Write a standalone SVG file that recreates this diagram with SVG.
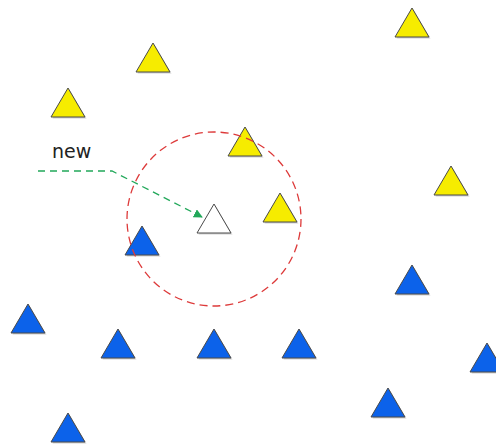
<svg xmlns="http://www.w3.org/2000/svg" width="496" height="445" viewBox="0 0 496 445">
<style>
.tri{stroke:#4a4a4a;stroke-width:1;stroke-linejoin:miter}
.y{fill:#f6ec00}
.b{fill:#0c62ea}
.w{fill:#ffffff}
.sh{fill:#000;opacity:0.18}
.lbl{font-family:"DejaVu Sans",sans-serif;font-size:19px;fill:#222}
</style>
<defs>
<path id="t" d="M0,0 L17,29 L-17,29 Z"/>
<g id="shadow"><use href="#t" class="sh" x="1.5" y="1.5"/></g>
<marker id="ah" viewBox="0 0 10 10" refX="9" refY="5" markerWidth="9" markerHeight="9" markerUnits="userSpaceOnUse" orient="auto">
<path d="M0,0 L10,5 L0,10 Z" fill="#22a85a"/>
</marker>
</defs>
<rect width="496" height="445" fill="#ffffff"/>
<g id="yellow">
<g id="y1"><use href="#shadow" x="153" y="43"/><use href="#t" class="tri y" x="153" y="43"/></g>
<g id="y2"><use href="#shadow" x="412" y="8"/><use href="#t" class="tri y" x="412" y="8"/></g>
<g id="y3"><use href="#shadow" x="68" y="88"/><use href="#t" class="tri y" x="68" y="88"/></g>
<g id="y4"><use href="#shadow" x="245" y="127"/><use href="#t" class="tri y" x="245" y="127"/></g>
<g id="y5"><use href="#shadow" x="451" y="166"/><use href="#t" class="tri y" x="451" y="166"/></g>
<g id="y6"><use href="#shadow" x="280" y="193"/><use href="#t" class="tri y" x="280" y="193"/></g>
</g>
<g id="blue">
<g id="b1"><use href="#shadow" x="142" y="226"/><use href="#t" class="tri b" x="142" y="226"/></g>
<g id="b2"><use href="#shadow" x="412" y="265"/><use href="#t" class="tri b" x="412" y="265"/></g>
<g id="b3"><use href="#shadow" x="28" y="304"/><use href="#t" class="tri b" x="28" y="304"/></g>
<g id="b4"><use href="#shadow" x="118" y="329"/><use href="#t" class="tri b" x="118" y="329"/></g>
<g id="b5"><use href="#shadow" x="214" y="329"/><use href="#t" class="tri b" x="214" y="329"/></g>
<g id="b6"><use href="#shadow" x="299" y="329"/><use href="#t" class="tri b" x="299" y="329"/></g>
<g id="b7"><use href="#shadow" x="487" y="343"/><use href="#t" class="tri b" x="487" y="343"/></g>
<g id="b8"><use href="#shadow" x="388" y="388"/><use href="#t" class="tri b" x="388" y="388"/></g>
<g id="b9"><use href="#shadow" x="68" y="413"/><use href="#t" class="tri b" x="68" y="413"/></g>
</g>
<g id="new-node"><use href="#shadow" x="214" y="204"/><use href="#t" class="tri w" x="214" y="204"/></g>
<g id="range">
<circle cx="214" cy="219" r="87" fill="none" stroke="#dd3a3a" stroke-width="1.3" stroke-dasharray="8,5"/>
</g>
<g id="label-new"><text class="lbl" x="52" y="158">new</text></g>
<g id="connectors">
<path d="M38,171 H112 L202,217" fill="none" stroke="#22a85a" stroke-width="1.3" stroke-dasharray="7,5" marker-end="url(#ah)"/>
</g>
</svg>
